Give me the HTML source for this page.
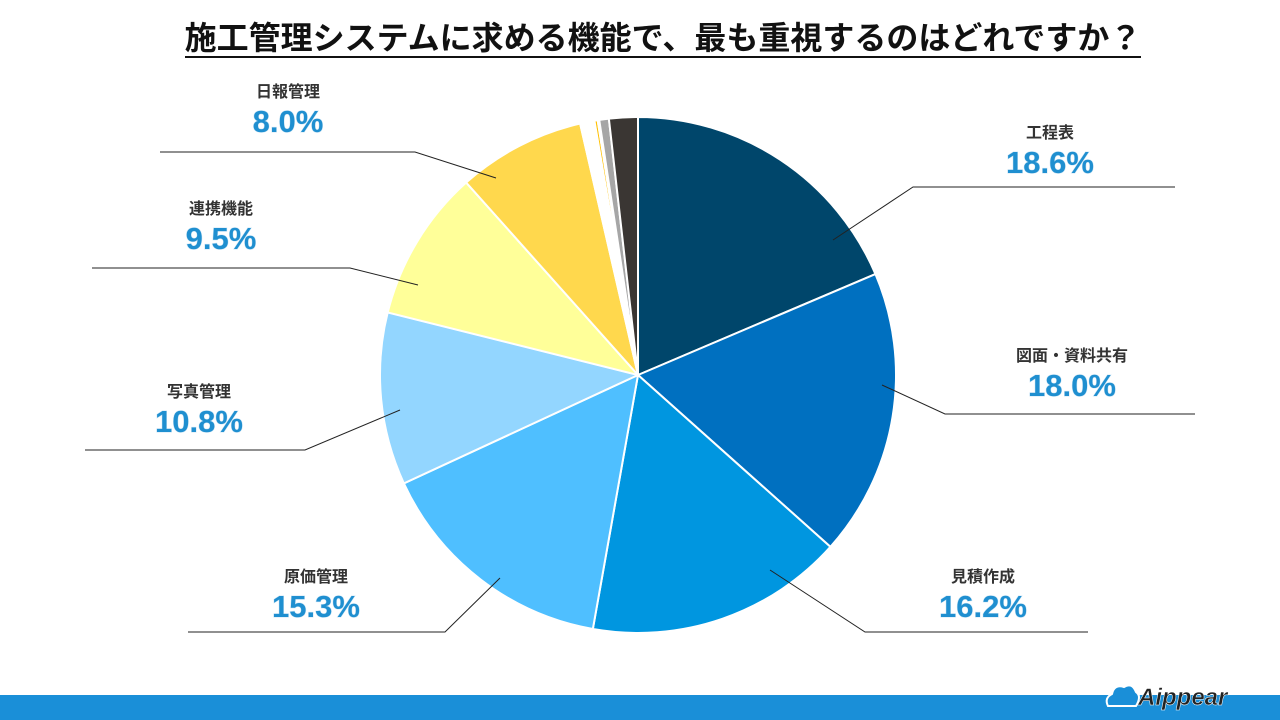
<!DOCTYPE html>
<html><head><meta charset="utf-8"><style>
body{margin:0;width:1280px;height:720px;background:#fff;overflow:hidden;position:relative;font-family:"Liberation Sans","Noto Sans CJK JP",sans-serif}
.title{position:absolute;top:13px;left:0;width:1326px;text-align:center;font-size:32px;font-weight:bold;color:#111}
.title span{border-bottom:2px solid #111;padding-bottom:0px}
.bar{position:absolute;left:0;top:695px;width:1280px;height:25px;background:#1a8fd8}
.logo{position:absolute;left:1104px;top:678px;width:170px;height:34px}
</style></head><body>
<div class="title"><span>施工管理システムに求める機能で、最も重視するのはどれですか？</span></div>
<svg id="chart" width="1280" height="720" style="position:absolute;left:0;top:0"></svg>
<div class="bar"></div>
<svg class="logo" viewBox="0 0 170 34">
<path d="M4 28 Q0 20 8 16 Q10 6 20 9 Q28 4 32 14 Q38 18 32 28 Z" fill="#1a8fd8" stroke="#fff" stroke-width="2"/>
<text x="34" y="27" font-family="Liberation Sans" font-weight="bold" font-style="italic" font-size="24" fill="#222" stroke="#fff" stroke-width="0.5">Aippear</text>
</svg>
<script>
const categories=["工程表","図面・資料共有","見積作成","原価管理","写真管理","連携機能","日報管理","s1","s2","s3","s4","s5"];
const values=[18.6,18.0,16.2,15.3,10.8,9.5,8.0,0.8,0.1,0.2,0.1,0.6,1.8];
const colors=["#00466b","#0070c0","#0096e0","#4fbfff","#93d6ff","#ffff99","#ffd84d","#ffffff","#555555","#ffc000","#ffffff","#a6a6a6","#3a3633"];
const labels=[
 {n:"工程表",p:"18.6%",x:1050,y:131,line:[[833,240],[913,187],[1175,187]]},
 {n:"図面・資料共有",p:"18.0%",x:1072,y:354,line:[[882,385],[945,414],[1195,414]]},
 {n:"見積作成",p:"16.2%",x:983,y:575,line:[[770,570],[865,632],[1088,632]]},
 {n:"原価管理",p:"15.3%",x:316,y:575,line:[[500,578],[445,632],[188,632]]},
 {n:"写真管理",p:"10.8%",x:199,y:390,line:[[400,410],[305,450],[85,450]]},
 {n:"連携機能",p:"9.5%",x:221,y:207,line:[[418,285],[350,268],[92,268]]},
 {n:"日報管理",p:"8.0%",x:288,y:90,line:[[496,178],[415,152],[160,152]]}
];
const svg=document.getElementById('chart');const NS="http://www.w3.org/2000/svg";
const cx=638,cy=375,r=258;const total=values.reduce((a,b)=>a+b,0);
let a=0;
values.forEach((v,i)=>{
 const a0=a/total*2*Math.PI,a1=(a+v)/total*2*Math.PI;a+=v;
 const x0=cx+r*Math.sin(a0),y0=cy-r*Math.cos(a0),x1=cx+r*Math.sin(a1),y1=cy-r*Math.cos(a1);
 const p=document.createElementNS(NS,'path');
 p.setAttribute('d',`M${cx},${cy}L${x0},${y0}A${r},${r} 0 ${a1-a0>Math.PI?1:0} 1 ${x1},${y1}Z`);
 p.setAttribute('fill',colors[i]);p.setAttribute('stroke','#fff');p.setAttribute('stroke-width','2');
 
 
 svg.appendChild(p);
});
labels.forEach((l,i)=>{
 const pl=document.createElementNS(NS,'polyline');
 pl.setAttribute('points',l.line.map(q=>q.join(',')).join(' '));
 pl.setAttribute('fill','none');pl.setAttribute('stroke','#222');pl.setAttribute('stroke-width','1');
 
 
 svg.appendChild(pl);
 const t=document.createElementNS(NS,'text');
 t.setAttribute('x',l.x);t.setAttribute('y',l.y+7);t.setAttribute('text-anchor','middle');
 t.setAttribute('font-size','16');t.setAttribute('font-weight','bold');t.setAttribute('fill','#333');
 t.textContent=l.n;
 
 
 svg.appendChild(t);
 const t2=document.createElementNS(NS,'text');
 t2.setAttribute('x',l.x);t2.setAttribute('y',l.y+42);t2.setAttribute('text-anchor','middle');
 t2.setAttribute('font-size','31');t2.setAttribute('font-weight','bold');t2.setAttribute('fill','#1f8fd0');
 t2.setAttribute('style','paint-order:stroke');t2.setAttribute('stroke','#cfe6f5');t2.setAttribute('stroke-width','1');
 t2.textContent=l.p;
 
 
 svg.appendChild(t2);
});
</script>
</body></html>
